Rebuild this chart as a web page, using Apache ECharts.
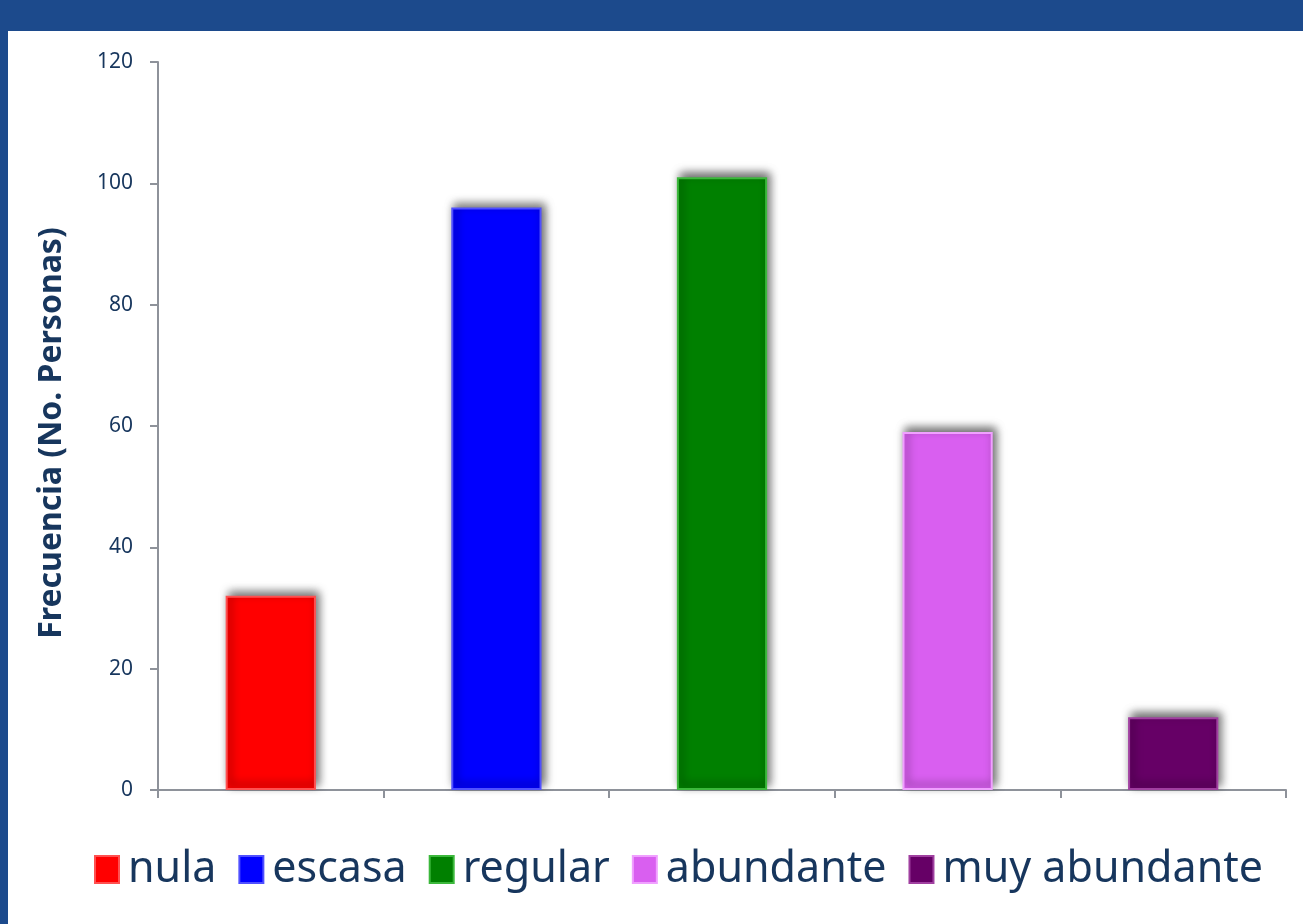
<!DOCTYPE html>
<html>
<head>
<meta charset="utf-8">
<script src="https://cdn.jsdelivr.net/npm/echarts@6/dist/echarts.min.js"></script>
<style>
html,body{margin:0;padding:0;background:#1c4a8c;}
#chart{width:1303px;height:924px;}
</style>
</head>
<body>
<div id="chart"></div>
<script>
const categories = ['nula', 'escasa', 'regular', 'abundante', 'muy abundante'];
const values = [32, 96, 101, 59, 12];
const colors = ['#ff0000', '#0000ff', '#008000', '#d95ff0', '#660066'];
const borderColors = ['#ff5050', '#5050ff', '#3cb83c', '#f0a0ff', '#a040a0'];
const yTicks = { min: 0, max: 120, interval: 20 };
const yTitle = 'Frecuencia (No. Personas)';

const chart = echarts.init(document.getElementById('chart'));

const series = categories.map((name, i) => ({
  name: name,
  type: 'bar',
  stack: 'all',
  barWidth: '40%',
  data: categories.map((c, j) => (j === i ? values[i] : '-')),
  itemStyle: {
    color: colors[i],
    borderColor: borderColors[i],
    borderWidth: 2,
    shadowColor: 'rgba(0,0,0,0.6)',
    shadowBlur: 9,
    shadowOffsetX: 3,
    shadowOffsetY: -4
  }
}));

chart.setOption({
  backgroundColor: '#1c4a8c',
  animation: false,
  graphic: [{
    type: 'rect',
    z: -10,
    silent: true,
    shape: { x: 8, y: 31, width: 1295, height: 893 },
    style: { fill: '#ffffff' }
  }],
  grid: { left: 158, right: 17, top: 62, bottom: 134, containLabel: false },
  legend: {
    data: categories,
    left: 94,
    top: 848,
    padding: 0,
    itemWidth: 24,
    itemHeight: 27,
    itemGap: 22,
    icon: 'rect',
    textStyle: {
      fontFamily: 'Noto Sans',
      fontSize: 43,
      color: '#17365d',
      padding: [0, 0, 0, 4]
    }
  },
  xAxis: {
    type: 'category',
    data: categories,
    axisLine: { lineStyle: { color: '#8e929a', width: 2 } },
    axisTick: { show: true, length: 8, lineStyle: { color: '#8e929a', width: 2 } },
    axisLabel: { show: false },
    splitLine: { show: false }
  },
  yAxis: {
    type: 'value',
    min: yTicks.min,
    max: yTicks.max,
    interval: yTicks.interval,
    name: yTitle,
    nameLocation: 'middle',
    nameGap: 90,
    nameRotate: 90,
    nameTextStyle: {
      fontFamily: 'Noto Sans',
      fontWeight: 'bold',
      fontSize: 32,
      color: '#17365d',
      padding: [0, 14, 0, 0]
    },
    axisLine: { show: true, lineStyle: { color: '#8e929a', width: 2 } },
    axisTick: { show: true, length: 8, lineStyle: { color: '#8e929a', width: 2 } },
    axisLabel: {
      fontFamily: 'Noto Sans',
      fontSize: 21,
      color: '#17365d',
      margin: 25
    },
    splitLine: { show: false }
  },
  series: series
});
</script>
</body>
</html>
